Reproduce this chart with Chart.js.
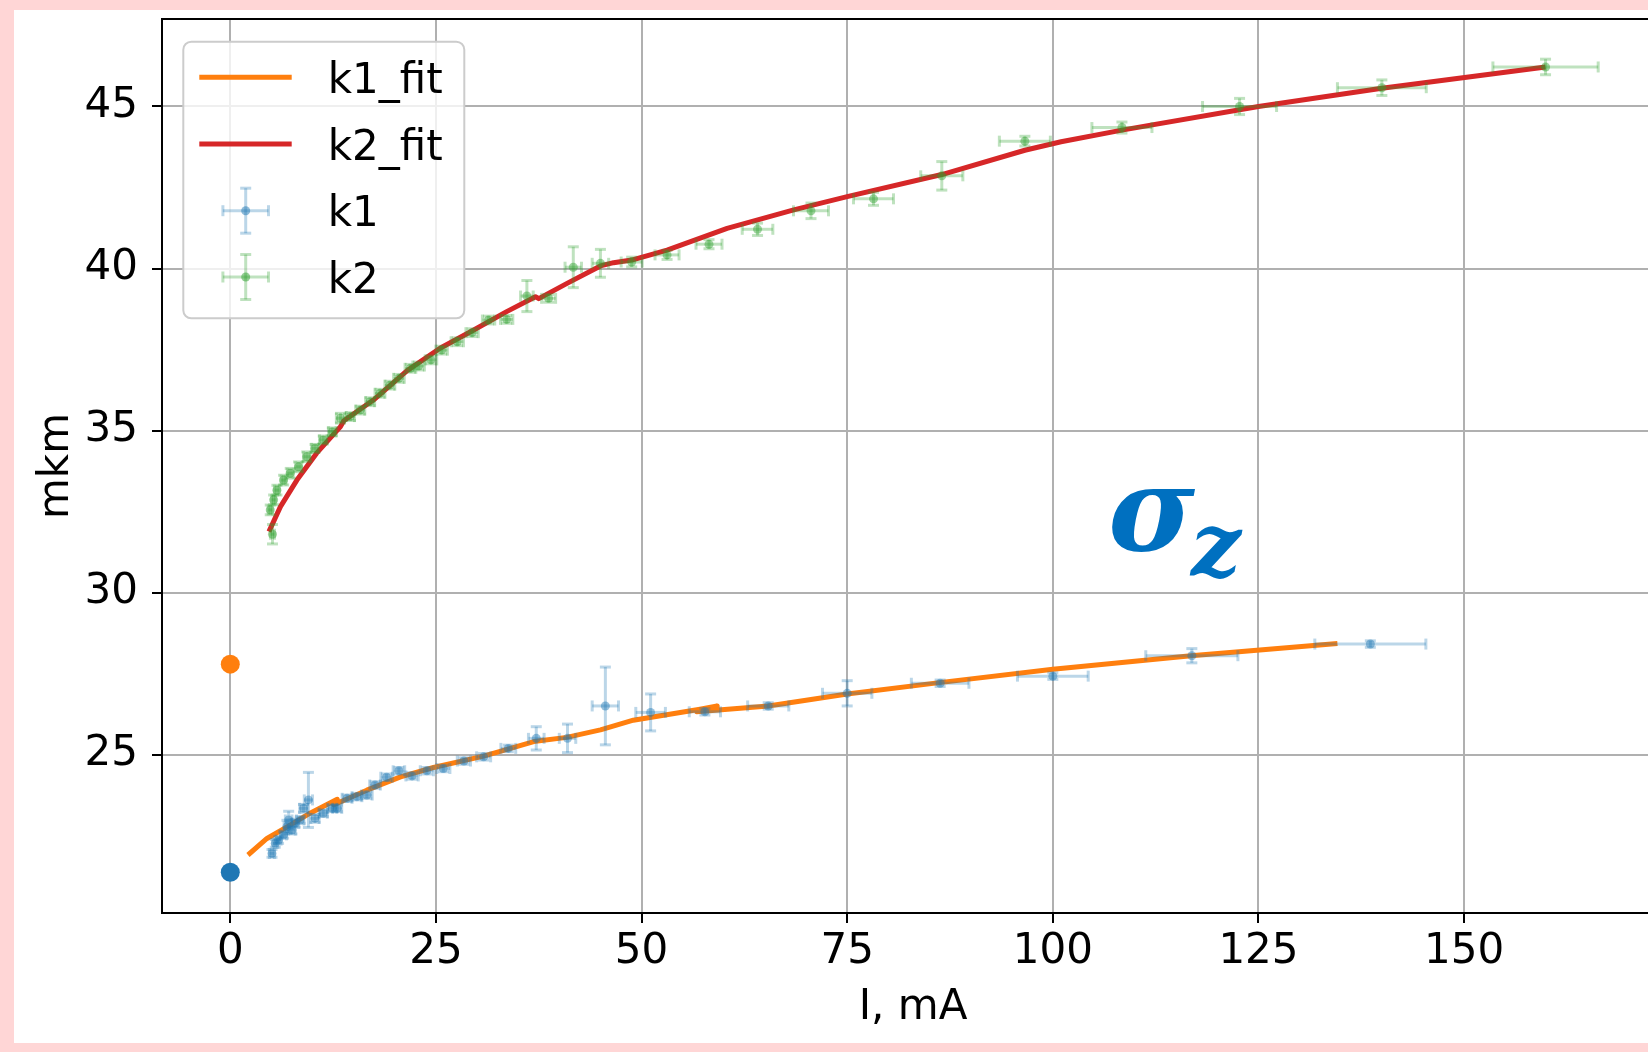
<!DOCTYPE html>
<html><head><meta charset="utf-8">
<script src="https://cdn.jsdelivr.net/npm/chart.js@4/dist/chart.umd.min.js"></script>
<style>
html,body{margin:0;padding:0;width:1648px;height:1052px;overflow:hidden;background:#ffd6d6;}
#panel{position:absolute;left:14px;top:10px;width:1700px;height:1033px;background:#fff;}
#wrap{position:absolute;left:0;top:0;width:1680px;height:1052px;}
canvas{display:block;}
#legend{position:absolute;left:182px;top:40px;}
#anno{position:absolute;left:0;top:0;}
</style>
</head><body>
<div id="panel"></div>
<div id="wrap"><canvas id="c" width="1680" height="1052"></canvas></div>
<svg id="legend" width="286" height="282" xmlns="http://www.w3.org/2000/svg">
  <rect x="1.3" y="1.7" width="281" height="276.6" rx="8" ry="8" fill="#ffffff" fill-opacity="0.8" stroke="#cccccc" stroke-width="2"/>
  <line x1="17.3" y1="37.3" x2="109.7" y2="37.3" stroke="#ff7f0e" stroke-width="5"/>
  <line x1="17.3" y1="104" x2="109.7" y2="104" stroke="#d62728" stroke-width="5"/>
  <g stroke="rgba(31,119,180,0.3)" stroke-width="3">
    <line x1="40.9" y1="170.7" x2="86.5" y2="170.7"/><line x1="40.9" y1="165.2" x2="40.9" y2="176.2"/><line x1="86.5" y1="165.2" x2="86.5" y2="176.2"/>
    <line x1="63.7" y1="148.2" x2="63.7" y2="193.2"/><line x1="58.2" y1="148.2" x2="69.2" y2="148.2"/><line x1="58.2" y1="193.2" x2="69.2" y2="193.2"/>
  </g>
  <circle cx="63.7" cy="170.7" r="4.5" fill="rgba(31,119,180,0.5)"/>
  <g stroke="rgba(44,160,44,0.3)" stroke-width="3">
    <line x1="40.9" y1="237" x2="86.5" y2="237"/><line x1="40.9" y1="231.5" x2="40.9" y2="242.5"/><line x1="86.5" y1="231.5" x2="86.5" y2="242.5"/>
    <line x1="63.7" y1="214.5" x2="63.7" y2="259.5"/><line x1="58.2" y1="214.5" x2="69.2" y2="214.5"/><line x1="58.2" y1="259.5" x2="69.2" y2="259.5"/>
  </g>
  <circle cx="63.7" cy="237" r="4.5" fill="rgba(44,160,44,0.5)"/>
  <g font-family="DejaVu Sans" font-size="42" fill="#000">
    <text x="145.7" y="53.3">k1_fit</text>
    <text x="145.7" y="120">k2_fit</text>
    <text x="145.7" y="186.3">k1</text>
    <text x="145.7" y="252.8">k2</text>
  </g>
</svg>
<svg id="anno" width="1648" height="1052" xmlns="http://www.w3.org/2000/svg" style="pointer-events:none">
  <g font-family="DejaVu Serif" font-weight="bold" font-style="italic" fill="#0070c0">
    <text x="1108" y="550" font-size="118">σ</text>
    <text x="1191" y="576" font-size="88">z</text>
  </g>
</svg>
<script>
// ---- data ----
const xTicks = [0, 25, 50, 75, 100, 125, 150];
const yTicks = [25, 30, 35, 40, 45];

const k1X    = [5.07, 5.47, 5.87, 6.48, 6.89, 7.1, 7.5, 7.9, 8.5, 8.9, 9.5, 10.3, 11.3, 12.4, 13.0, 14.2, 15.4, 16.6, 17.6, 19.0, 20.5, 22.1, 23.9, 25.9, 28.4, 30.8, 33.8, 37.2, 41.0, 45.6, 51.1, 57.7, 65.4, 75.0, 86.3, 100.0, 116.9, 138.6];
const k1Y    = [21.95, 22.26, 22.36, 22.52, 22.77, 22.98, 22.67, 22.88, 22.98, 23.34, 23.60, 23.03, 23.19, 23.34, 23.34, 23.65, 23.70, 23.75, 24.06, 24.30, 24.50, 24.34, 24.50, 24.57, 24.80, 24.93, 25.19, 25.50, 25.50, 26.50, 26.30, 26.32, 26.50, 26.89, 27.20, 27.42, 28.05, 28.41];
const k1Xerr = [0.3, 0.3, 0.3, 0.35, 0.35, 0.4, 0.4, 0.4, 0.45, 0.45, 0.5, 0.5, 0.5, 0.55, 0.55, 0.6, 0.6, 0.65, 0.65, 0.7, 0.7, 0.75, 0.8, 0.8, 0.8, 0.85, 0.9, 0.95, 1.0, 1.6, 1.8, 1.9, 2.5, 3.0, 3.5, 4.3, 5.6, 6.75];
const k1Yerr = [0.12, 0.12, 0.1, 0.1, 0.2, 0.27, 0.12, 0.12, 0.1, 0.12, 0.85, 0.12, 0.1, 0.1, 0.1, 0.1, 0.1, 0.1, 0.1, 0.1, 0.1, 0.1, 0.1, 0.1, 0.1, 0.1, 0.1, 0.36, 0.44, 1.2, 0.57, 0.1, 0.1, 0.39, 0.1, 0.1, 0.22, 0.1];

const k2X    = [5.13, 4.86, 5.27, 5.67, 6.48, 7.29, 8.3, 9.3, 10.3, 11.3, 12.4, 13.4, 14.6, 15.8, 17.0, 18.2, 19.4, 20.5, 21.9, 22.9, 24.4, 25.7, 27.6, 29.4, 31.4, 33.6, 36.06, 38.7, 41.7, 45.0, 48.8, 53.1, 58.2, 64.1, 70.6, 78.2, 86.5, 96.6, 108.4, 122.7, 140.0, 159.9];
const k2Y    = [31.80, 32.55, 32.86, 33.16, 33.47, 33.68, 33.88, 34.19, 34.45, 34.71, 34.96, 35.38, 35.43, 35.63, 35.89, 36.15, 36.40, 36.61, 36.92, 36.99, 37.18, 37.48, 37.74, 38.02, 38.41, 38.43, 39.15, 39.08, 40.04, 40.16, 40.20, 40.42, 40.75, 41.21, 41.78, 42.15, 42.86, 43.93, 44.35, 45.00, 45.58, 46.22];
const k2Xerr = [0.25, 0.25, 0.25, 0.3, 0.3, 0.35, 0.35, 0.4, 0.4, 0.45, 0.45, 0.5, 0.5, 0.55, 0.55, 0.6, 0.6, 0.65, 0.65, 0.7, 0.7, 0.7, 0.75, 0.75, 0.75, 0.75, 0.77, 0.85, 1.0, 1.0, 1.28, 1.46, 1.58, 1.86, 2.13, 2.43, 2.56, 3.1, 3.65, 4.5, 5.4, 6.4];
const k2Yerr = [0.3, 0.15, 0.15, 0.15, 0.15, 0.15, 0.15, 0.15, 0.12, 0.12, 0.12, 0.15, 0.12, 0.12, 0.12, 0.12, 0.12, 0.12, 0.12, 0.12, 0.12, 0.12, 0.12, 0.12, 0.12, 0.12, 0.48, 0.12, 0.63, 0.43, 0.15, 0.14, 0.14, 0.19, 0.24, 0.2, 0.44, 0.15, 0.17, 0.25, 0.24, 0.24];

const k1FitX = [2.15, 4.46, 6.9, 9.7, 13.0, 12.6, 16.6, 20.7, 24.7, 30.8, 36.9, 40.9, 45.0, 49.0, 57.1, 59.2, 56.7, 65.4, 75.0, 86.2, 100.0, 116.8, 134.6];
const k1FitY = [21.90, 22.41, 22.77, 23.19, 23.62, 23.45, 23.90, 24.31, 24.60, 24.95, 25.40, 25.53, 25.76, 26.06, 26.40, 26.50, 26.32, 26.50, 26.87, 27.22, 27.63, 28.05, 28.43];

const k2FitX = [4.7, 6.1, 8.1, 10.5, 13.4, 13.8, 17.4, 21.5, 25.5, 29.6, 33.6, 37.1, 37.5, 41.0, 45.0, 46.6, 48.8, 53.1, 60.4, 68.5, 75.0, 86.5, 96.6, 101.0, 108.4, 125.0, 140.0, 159.9];
const k2FitY = [31.88, 32.65, 33.47, 34.30, 35.12, 35.30, 35.94, 36.85, 37.54, 38.10, 38.67, 39.13, 39.07, 39.55, 40.08, 40.18, 40.26, 40.57, 41.24, 41.81, 42.22, 42.90, 43.65, 43.91, 44.27, 45.00, 45.56, 46.22];

const zeroBlueX = [0], zeroBlueY = [21.37];
const zeroOrangeX = [0], zeroOrangeY = [27.79];

// ---- helpers ----
const pts = (xs, ys) => xs.map((x, i) => ({x: x, y: ys[i]}));

const errorBars = {
  id: 'errorBars',
  beforeDatasetDraw(chart, args) {
    const ds = chart.data.datasets[args.index];
    if (!ds.errX) return;
    const ctx = chart.ctx, xs = chart.scales.x, ys = chart.scales.y, ca = chart.chartArea;
    const cap = 5.5;
    ctx.save();
    ctx.beginPath(); ctx.rect(ca.left, ca.top, ca.right - ca.left, ca.bottom - ca.top); ctx.clip();
    ctx.strokeStyle = ds.errColor; ctx.lineWidth = 3; ctx.lineCap = 'butt';
    ds.data.forEach((p, i) => {
      const px = xs.getPixelForValue(p.x), py = ys.getPixelForValue(p.y);
      const xl = xs.getPixelForValue(p.x - ds.errX[i]), xr = xs.getPixelForValue(p.x + ds.errX[i]);
      const yt = ys.getPixelForValue(p.y + ds.errY[i]), yb = ys.getPixelForValue(p.y - ds.errY[i]);
      const segs = [[xl, py, xr, py], [xl, py - cap, xl, py + cap], [xr, py - cap, xr, py + cap],
                    [px, yt, px, yb], [px - cap, yt, px + cap, yt], [px - cap, yb, px + cap, yb]];
      segs.forEach(s => { ctx.beginPath(); ctx.moveTo(s[0], s[1]); ctx.lineTo(s[2], s[3]); ctx.stroke(); });
    });
    ctx.restore();
  }
};

const frame = {
  id: 'frame',
  afterDraw(chart) {
    const ctx = chart.ctx, ca = chart.chartArea;
    ctx.save();
    ctx.strokeStyle = '#000'; ctx.lineWidth = 2;
    ctx.beginPath();
    ctx.moveTo(ca.left - 1, ca.top); ctx.lineTo(ca.right, ca.top); ctx.lineTo(ca.right, ca.bottom);
    ctx.stroke();
    ctx.restore();
  }
};

const tickFont = {family: 'DejaVu Sans', size: 42};
const noPad = s => { s.paddingTop = 0; s.paddingBottom = 0; s.paddingLeft = 0; s.paddingRight = 0; };

new Chart(document.getElementById('c'), {
  type: 'scatter',
  data: {
    datasets: [
      {label: 'k1_0', data: pts(zeroBlueX, zeroBlueY), pointRadius: 9.5, pointBackgroundColor: '#1f77b4', pointBorderWidth: 0, order: 0},
      {label: 'k2_0', data: pts(zeroOrangeX, zeroOrangeY), pointRadius: 9.5, pointBackgroundColor: '#ff7f0e', pointBorderWidth: 0, order: 0},
      {label: 'k1', data: pts(k1X, k1Y), errX: k1Xerr, errY: k1Yerr, errColor: 'rgba(31,119,180,0.3)',
       pointRadius: 4.5, pointBackgroundColor: 'rgba(31,119,180,0.45)', pointBorderWidth: 0, order: 2},
      {label: 'k2', data: pts(k2X, k2Y), errX: k2Xerr, errY: k2Yerr, errColor: 'rgba(44,160,44,0.3)',
       pointRadius: 4.5, pointBackgroundColor: 'rgba(44,160,44,0.45)', pointBorderWidth: 0, order: 1},
      {label: 'k1_fit', data: pts(k1FitX, k1FitY), showLine: true, borderColor: '#ff7f0e', borderWidth: 5,
       pointRadius: 0, tension: 0, fill: false, borderJoinStyle: 'round', order: 10},
      {label: 'k2_fit', data: pts(k2FitX, k2FitY), showLine: true, borderColor: '#d62728', borderWidth: 5,
       pointRadius: 0, tension: 0, fill: false, borderJoinStyle: 'round', order: 9}
    ]
  },
  options: {
    responsive: false, animation: false, devicePixelRatio: 1,
    layout: {padding: {left: 0, top: 19, right: 16, bottom: 0}},
    plugins: {legend: {display: false}, tooltip: {enabled: false}},
    scales: {
      x: {
        type: 'linear', min: -8.3, max: 174.3,
        afterBuildTicks: s => { s.ticks = xTicks.map(v => ({value: v})); },
        afterFit: s => { s.height = 139; noPad(s); },
        grid: {color: '#b0b0b0', lineWidth: 2, drawTicks: true, tickLength: 10, tickColor: '#000', tickWidth: 2},
        border: {display: true, color: '#000', width: 2},
        ticks: {font: tickFont, color: '#000', padding: 4, maxRotation: 0, autoSkip: false},
        title: {display: true, text: 'I, mA', font: tickFont, color: '#000', padding: {top: 0, bottom: 19}}
      },
      y: {
        type: 'linear', min: 20.11, max: 47.70,
        afterBuildTicks: s => { s.ticks = yTicks.map(v => ({value: v})); },
        afterFit: s => { s.width = 162; noPad(s); },
        grid: {color: '#b0b0b0', lineWidth: 2, drawTicks: true, tickLength: 10, tickColor: '#000', tickWidth: 2},
        border: {display: true, color: '#000', width: 2},
        ticks: {font: tickFont, color: '#000', padding: 14, autoSkip: false},
        title: {display: true, text: 'mkm', font: tickFont, color: '#000', padding: {top: 32, bottom: 0}}
      }
    }
  },
  plugins: [errorBars, frame]
});
</script>
</body></html>
